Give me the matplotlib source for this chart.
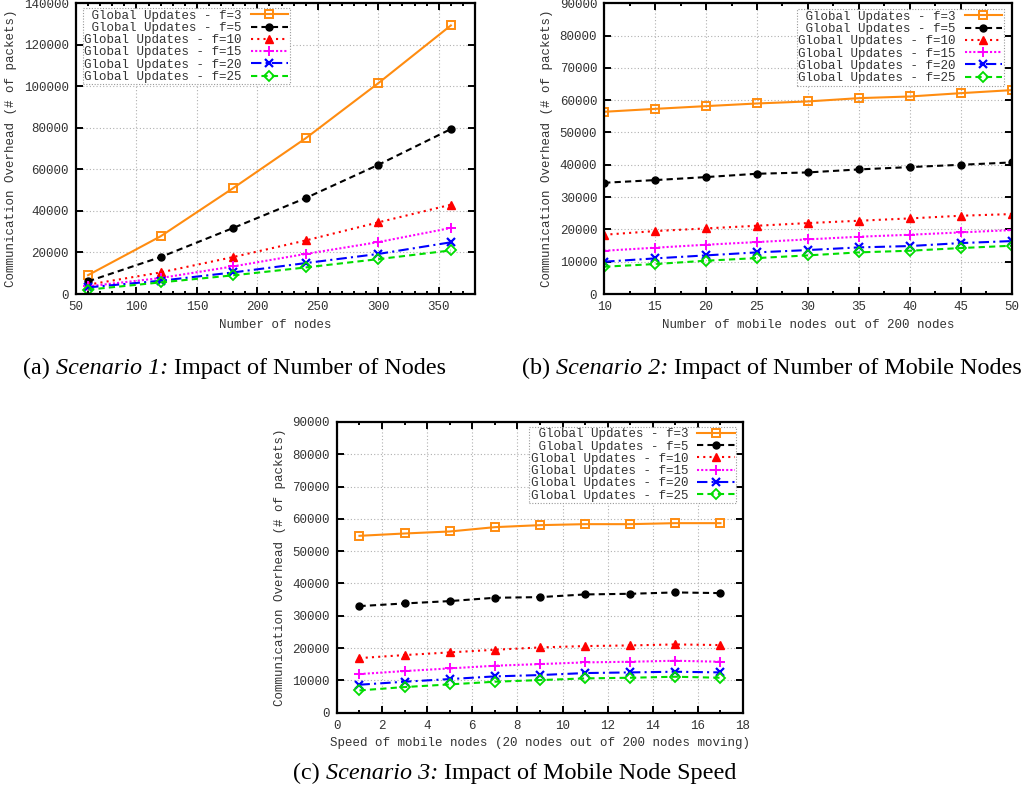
import matplotlib
matplotlib.use("Agg")
import matplotlib.pyplot as plt
from matplotlib.text import Annotation
from matplotlib.ticker import MultipleLocator

labels = [" Global Updates - f=3", " Global Updates - f=5", "Global Updates - f=10",
          "Global Updates - f=15", "Global Updates - f=20", "Global Updates - f=25"]

# Scenario 1
x1 = [60, 120, 180, 240, 300, 360]
s1_f3 = [9100, 27800, 51000, 75000, 101500, 129300]
s1_f5 = [6100, 17800, 31800, 46200, 62200, 79400]
s1_f10 = [4500, 10400, 17800, 25800, 34500, 43000]
s1_f15 = [3700, 7700, 13300, 19300, 25000, 31800]
s1_f20 = [3200, 6400, 10400, 14900, 19300, 24900]
s1_f25 = [2100, 5600, 9000, 12800, 16800, 21000]

# Scenario 2
x2 = [10, 15, 20, 25, 30, 35, 40, 45, 50]
s2_f3 = [56400, 57300, 58150, 58970, 59600, 60620, 61130, 62160, 63100]
s2_f5 = [34430, 35260, 36190, 37220, 37630, 38560, 39280, 40000, 40720]
s2_f10 = [18350, 19480, 20310, 21130, 21960, 22680, 23400, 24230, 24740]
s2_f15 = [13400, 14330, 15260, 16080, 16910, 17730, 18350, 19070, 19790]
s2_f20 = [10000, 11030, 11960, 12890, 13610, 14430, 14850, 15770, 16390]
s2_f25 = [8450, 9280, 10310, 11130, 11960, 12890, 13400, 14230, 14950]

# Scenario 3
x3 = [1, 3, 5, 7, 9, 11, 13, 15, 17]
s3_f3 = [54740, 55460, 56080, 57420, 58040, 58350, 58350, 58660, 58660]
s3_f5 = [32990, 33810, 34540, 35570, 35770, 36600, 36800, 37220, 37010]
s3_f10 = [16900, 17840, 18660, 19480, 20200, 20620, 20820, 21130, 20930]
s3_f15 = [11960, 12890, 13710, 14540, 15050, 15570, 15770, 16080, 15770]
s3_f20 = [8660, 9590, 10410, 11240, 11650, 12270, 12470, 12680, 12470]
s3_f25 = [6900, 7940, 8760, 9590, 10100, 10620, 10820, 11130, 10820]

captions = [("(a) ", "Scenario 1:", " Impact of Number of Nodes"),
            ("(b) ", "Scenario 2:", " Impact of Number of Mobile Nodes"),
            ("(c) ", "Scenario 3:", " Impact of Mobile Node Speed")]

styles = [
    dict(color='#ff8c10', ls='-', marker='s', mfc='none', mec='#ff8c10', ms=6, mew=1.4),
    dict(color='black', ls=(0, (3, 2)), marker='o', mfc='black', ms=5),
    dict(color='#ff0000', ls=(0, (1, 2)), marker='^', mfc='#ff0000', ms=6),
    dict(color='#ff00ff', ls=(0, (1, 1)), marker='+', ms=7, mew=1.4),
    dict(color='#0000ff', ls=(0, (5, 2, 1, 2)), marker='x', ms=6, mew=1.6),
    dict(color='#00dd00', ls=(0, (3, 2)), marker='D', mfc='none', mec='#00dd00', ms=5, mew=1.3),
]

mono = 'Liberation Mono'
fs = 9

fig = plt.figure(figsize=(10.24, 7.99), dpi=100)


def setup(ax, x, series, xlim, ylim, xmaj, xmin, ymaj, xlabel, legend_loc, anchor):
    for y, lab, st in zip(series, labels, styles):
        ax.plot(x, y, label=lab, lw=1.5, **st)
    ax.set_xlim(*xlim)
    ax.set_ylim(*ylim)
    ax.xaxis.set_major_locator(MultipleLocator(xmaj))
    ax.xaxis.set_minor_locator(MultipleLocator(xmin))
    ax.yaxis.set_major_locator(MultipleLocator(ymaj))
    ax.grid(True, which='major', color='#b0b0b0', ls=(0, (1, 2)), lw=0.8)
    ax.tick_params(which='both', direction='in', top=True, right=True, width=1.4,
                   labelsize=fs, colors='black', labelcolor='#333333', pad=5)
    ax.tick_params(which='major', length=5)
    ax.tick_params(which='minor', length=2.5)
    for lab in ax.get_xticklabels() + ax.get_yticklabels():
        lab.set_fontfamily(mono)
    for sp in ax.spines.values():
        sp.set_linewidth(1.6)
    ax.set_xlabel(xlabel, fontfamily=mono, fontsize=fs, color='#333333', labelpad=4)
    ax.set_ylabel("Communication Overhead (# of packets)", fontfamily=mono,
                  fontsize=fs, color='#333333', labelpad=5)
    leg = ax.legend(loc=legend_loc, bbox_to_anchor=anchor, markerfirst=False,
                    prop={'family': mono, 'size': fs}, frameon=True, fancybox=False,
                    borderaxespad=0, borderpad=0.12, labelspacing=0.02,
                    handlelength=3.0, handletextpad=0.7, framealpha=1)
    fr = leg.get_frame()
    fr.set_edgecolor('#999999')
    fr.set_linestyle((0, (1, 1.5)))
    fr.set_linewidth(0.8)
    for t in leg.get_texts():
        t.set_color('#333333')


ax1 = fig.add_axes([0.0742, 0.632, 0.3897, 0.364])
setup(ax1, x1, [s1_f3, s1_f5, s1_f10, s1_f15, s1_f20, s1_f25], (50, 380), (0, 140000),
      50, 10, 20000, "Number of nodes", 'upper left', (0.0175, 0.983))

ax2 = fig.add_axes([0.590, 0.632, 0.398, 0.364])
setup(ax2, x2, [s2_f3, s2_f5, s2_f10, s2_f15, s2_f20, s2_f25], (10, 50), (0, 90000),
      5, 2.5, 10000, "Number of mobile nodes out of 200 nodes", 'upper right', (0.980, 0.979))

ax3 = fig.add_axes([0.329, 0.108, 0.3966, 0.364])
setup(ax3, x3, [s3_f3, s3_f5, s3_f10, s3_f15, s3_f20, s3_f25], (0, 18), (0, 90000),
      2, 1, 10000, "Speed of mobile nodes (20 nodes out of 200 nodes moving)",
      'upper right', (0.983, 0.983))

serif = 'Liberation Serif'
cfs = 17.4
cap_pos = [(23, 374), (522, 374), (293, 779)]
for (p1, p2, p3), (cx, cy) in zip(captions, cap_pos):
    t1 = fig.text(cx / 1024, 1 - cy / 799, p1, ha='left', va='baseline',
                  fontsize=cfs, fontfamily=serif)
    t2 = fig.add_artist(Annotation(p2, xy=(1, 0), xycoords=t1, ha='left', va='bottom',
                                   fontsize=cfs, fontfamily=serif, style='italic'))
    fig.add_artist(Annotation(p3, xy=(1, 0), xycoords=t2, ha='left', va='bottom',
                              fontsize=cfs, fontfamily=serif))

fig.savefig("out.png", dpi=100)
